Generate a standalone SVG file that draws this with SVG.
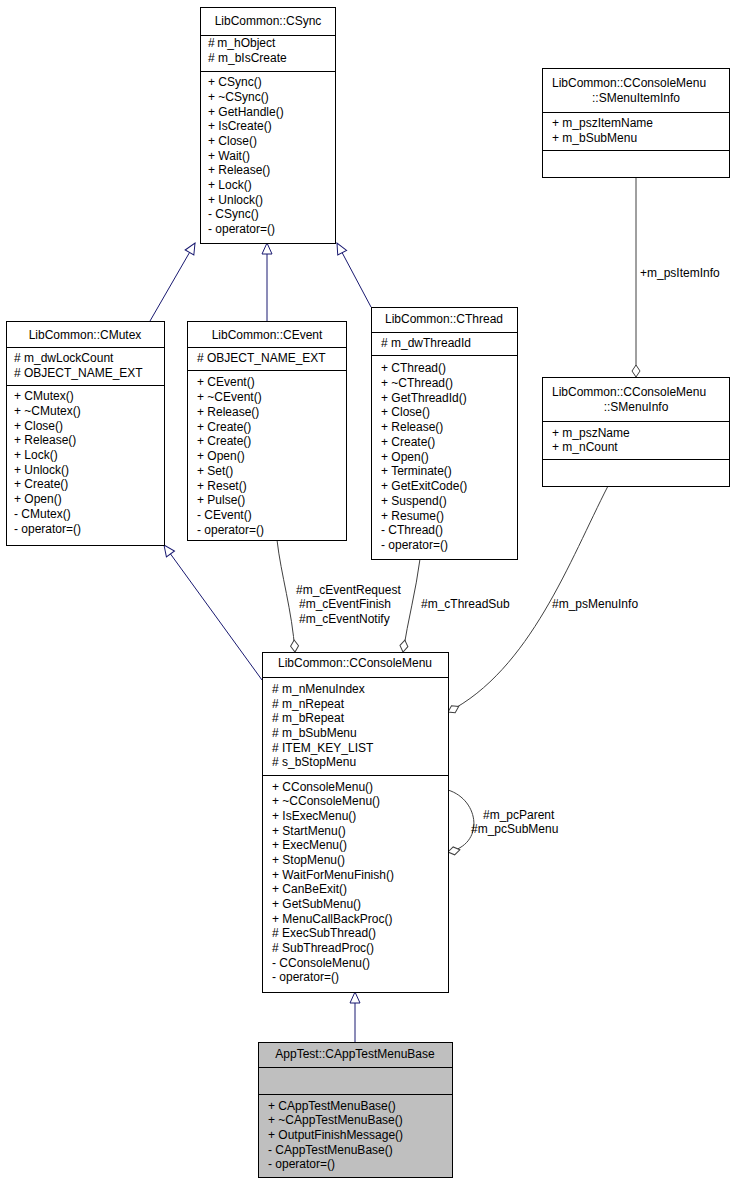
<svg xmlns="http://www.w3.org/2000/svg" width="734" height="1184" viewBox="0 0 734 1184">
<style>
text{font-family:"Liberation Sans",Arial,sans-serif;font-size:12px;fill:#000}
.box{fill:#fff;stroke:#000;stroke-width:1}
.sep{stroke:#000;stroke-width:1}
.inh{fill:none;stroke:#191970;stroke-width:1}
.agg{fill:none;stroke:#404040;stroke-width:1}
.t{text-anchor:middle}
</style>
<defs>
<marker id="tri" markerUnits="userSpaceOnUse" markerWidth="13" markerHeight="12" viewBox="-1 -6 13 12" refX="11" refY="0" orient="auto" overflow="visible"><path d="M0,-5 L11,0 L0,5 Z" fill="#fff" stroke="#191970"/></marker>
<marker id="dia" markerUnits="userSpaceOnUse" markerWidth="14" markerHeight="10" viewBox="-1 -5 14 10" refX="12" refY="0" orient="auto" overflow="visible"><path d="M0,0 L6,-4 L12,0 L6,4 Z" fill="#fff" stroke="#404040"/></marker>
</defs>
<rect width="734" height="1184" fill="#fff"/>
<g id="connectors">
<path class="inh" d="M150,321 L195,243" marker-end="url(#tri)"/>
<path class="inh" d="M267,321 L267,243" marker-end="url(#tri)"/>
<path class="inh" d="M371,307 L337,243" marker-end="url(#tri)"/>
<path class="inh" d="M262,680 L164,545" marker-end="url(#tri)"/>
<path class="inh" d="M355,1042 L355,992" marker-end="url(#tri)"/>
<path class="agg" d="M277,540 C281,575 292,610 295,652" marker-end="url(#dia)"/>
<path class="agg" d="M420,559 C416,590 408,620 403,652" marker-end="url(#dia)"/>
<path class="agg" d="M608,486 C570,560 530,670 448,712" marker-end="url(#dia)"/>
<path class="agg" d="M636,177 L636,377" marker-end="url(#dia)"/>
<path class="agg" d="M448,790 C480,800 485,845 448,852" marker-end="url(#dia)"/>
<text x="296" y="594">#m_cEventRequest</text>
<text x="299" y="608">#m_cEventFinish</text>
<text x="299" y="623">#m_cEventNotify</text>
<text x="421" y="608">#m_cThreadSub</text>
<text x="552" y="608">#m_psMenuInfo</text>
<text x="640" y="277">+m_psItemInfo</text>
<text x="483" y="819">#m_pcParent</text>
<text x="471" y="833">#m_pcSubMenu</text>
</g>
<g id="CSync">
<rect class="box" x="200.5" y="7.5" width="135" height="236"/>
<line class="sep" x1="200" y1="35.5" x2="336" y2="35.5"/>
<line class="sep" x1="200" y1="71.5" x2="336" y2="71.5"/>
<text class="t" x="268" y="25">LibCommon::CSync</text>
<text x="208" y="47">#<tspan x="214"> m_hObject</tspan></text>
<text x="208" y="62"># m_bIsCreate</text>
<text x="208" y="86">+ CSync()</text>
<text x="208" y="101">+ ~CSync()</text>
<text x="208" y="116">+ GetHandle()</text>
<text x="208" y="130">+ IsCreate()</text>
<text x="208" y="145">+ Close()</text>
<text x="208" y="160">+ Wait()</text>
<text x="208" y="174">+ Release()</text>
<text x="208" y="189">+ Lock()</text>
<text x="208" y="204">+ Unlock()</text>
<text x="208" y="218">- CSync()</text>
<text x="208" y="233">- operator=()</text>
</g>
<g id="CMutex">
<rect class="box" x="6.5" y="321.5" width="158" height="224"/>
<line class="sep" x1="6" y1="347.5" x2="165" y2="347.5"/>
<line class="sep" x1="6" y1="385.5" x2="165" y2="385.5"/>
<text class="t" x="85" y="339">LibCommon::CMutex</text>
<text x="14" y="362"># m_dwLockCount</text>
<text x="14" y="377"># OBJECT_NAME_EXT</text>
<text x="14" y="400">+ CMutex()</text>
<text x="14" y="415">+ ~CMutex()</text>
<text x="14" y="430">+ Close()</text>
<text x="14" y="444">+ Release()</text>
<text x="14" y="459">+ Lock()</text>
<text x="14" y="474">+ Unlock()</text>
<text x="14" y="488">+ Create()</text>
<text x="14" y="503">+ Open()</text>
<text x="14" y="518">- CMutex()</text>
<text x="14" y="533">- operator=()</text>
</g>
<g id="CEvent">
<rect class="box" x="187.5" y="321.5" width="159" height="219"/>
<line class="sep" x1="187" y1="347.5" x2="347" y2="347.5"/>
<line class="sep" x1="187" y1="370.5" x2="347" y2="370.5"/>
<text class="t" x="267" y="339">LibCommon::CEvent</text>
<text x="197" y="362"># OBJECT_NAME_EXT</text>
<text x="197" y="386">+ CEvent()</text>
<text x="197" y="401">+ ~CEvent()</text>
<text x="197" y="416">+ Release()</text>
<text x="197" y="431">+ Create()</text>
<text x="197" y="445">+ Create()</text>
<text x="197" y="460">+ Open()</text>
<text x="197" y="475">+ Set()</text>
<text x="197" y="490">+ Reset()</text>
<text x="197" y="504">+ Pulse()</text>
<text x="197" y="519">- CEvent()</text>
<text x="197" y="534">- operator=()</text>
</g>
<g id="CThread">
<rect class="box" x="371.5" y="307.5" width="146" height="252"/>
<line class="sep" x1="371" y1="332.5" x2="518" y2="332.5"/>
<line class="sep" x1="371" y1="355.5" x2="518" y2="355.5"/>
<text class="t" x="444" y="323">LibCommon::CThread</text>
<text x="381" y="347"># m_dwThreadId</text>
<text x="381" y="372">+ CThread()</text>
<text x="381" y="387">+ ~CThread()</text>
<text x="381" y="402">+ GetThreadId()</text>
<text x="381" y="416">+ Close()</text>
<text x="381" y="431">+ Release()</text>
<text x="381" y="446">+ Create()</text>
<text x="381" y="461">+ Open()</text>
<text x="381" y="475">+ Terminate()</text>
<text x="381" y="490">+ GetExitCode()</text>
<text x="381" y="505">+ Suspend()</text>
<text x="381" y="520">+ Resume()</text>
<text x="381" y="534">- CThread()</text>
<text x="381" y="549">- operator=()</text>
</g>
<g id="SMenuItemInfo">
<rect class="box" x="542.5" y="68.5" width="187" height="109"/>
<line class="sep" x1="542" y1="112.5" x2="730" y2="112.5"/>
<line class="sep" x1="542" y1="150.5" x2="730" y2="150.5"/>
<text x="552" y="87">LibCommon::CConsoleMenu</text>
<text class="t" x="636" y="102">::SMenuItemInfo</text>
<text x="552" y="127">+ m_pszItemName</text>
<text x="552" y="142">+ m_bSubMenu</text>
</g>
<g id="SMenuInfo">
<rect class="box" x="542.5" y="377.5" width="187" height="109"/>
<line class="sep" x1="542" y1="421.5" x2="730" y2="421.5"/>
<line class="sep" x1="542" y1="459.5" x2="730" y2="459.5"/>
<text x="552" y="396">LibCommon::CConsoleMenu</text>
<text class="t" x="636" y="411">::SMenuInfo</text>
<text x="552" y="437">+ m_pszName</text>
<text x="552" y="451">+ m_nCount</text>
</g>
<g id="CConsoleMenu">
<rect class="box" x="262.5" y="652.5" width="186" height="340"/>
<line class="sep" x1="262" y1="677.5" x2="449" y2="677.5"/>
<line class="sep" x1="262" y1="775.5" x2="449" y2="775.5"/>
<text class="t" x="355" y="667">LibCommon::CConsoleMenu</text>
<text x="272" y="693"># m_nMenuIndex</text>
<text x="272" y="708"># m_nRepeat</text>
<text x="272" y="722"># m_bRepeat</text>
<text x="272" y="737"># m_bSubMenu</text>
<text x="272" y="752"># ITEM_KEY_LIST</text>
<text x="272" y="766"># s_bStopMenu</text>
<text x="272" y="791">+ CConsoleMenu()</text>
<text x="272" y="805">+ ~CConsoleMenu()</text>
<text x="272" y="820">+ IsExecMenu()</text>
<text x="272" y="835">+ StartMenu()</text>
<text x="272" y="849">+ ExecMenu()</text>
<text x="272" y="864">+ StopMenu()</text>
<text x="272" y="879">+ WaitForMenuFinish()</text>
<text x="272" y="893">+ CanBeExit()</text>
<text x="272" y="908">+ GetSubMenu()</text>
<text x="272" y="923">+ MenuCallBackProc()</text>
<text x="272" y="937"># ExecSubThread()</text>
<text x="272" y="952"># SubThreadProc()</text>
<text x="272" y="967">- CConsoleMenu()</text>
<text x="272" y="981">- operator=()</text>
</g>
<g id="CAppTestMenuBase">
<rect x="258.5" y="1042.5" width="194" height="135" fill="#bfbfbf" stroke="#000"/>
<line class="sep" x1="258" y1="1067.5" x2="453" y2="1067.5"/>
<line class="sep" x1="258" y1="1094.5" x2="453" y2="1094.5"/>
<text class="t" x="355" y="1058">AppTest::CAppTestMenuBase</text>
<text x="268" y="1110">+ CAppTestMenuBase()</text>
<text x="268" y="1124">+ ~CAppTestMenuBase()</text>
<text x="268" y="1139">+ OutputFinishMessage()</text>
<text x="268" y="1154">- CAppTestMenuBase()</text>
<text x="268" y="1168">- operator=()</text>
</g>
</svg>
